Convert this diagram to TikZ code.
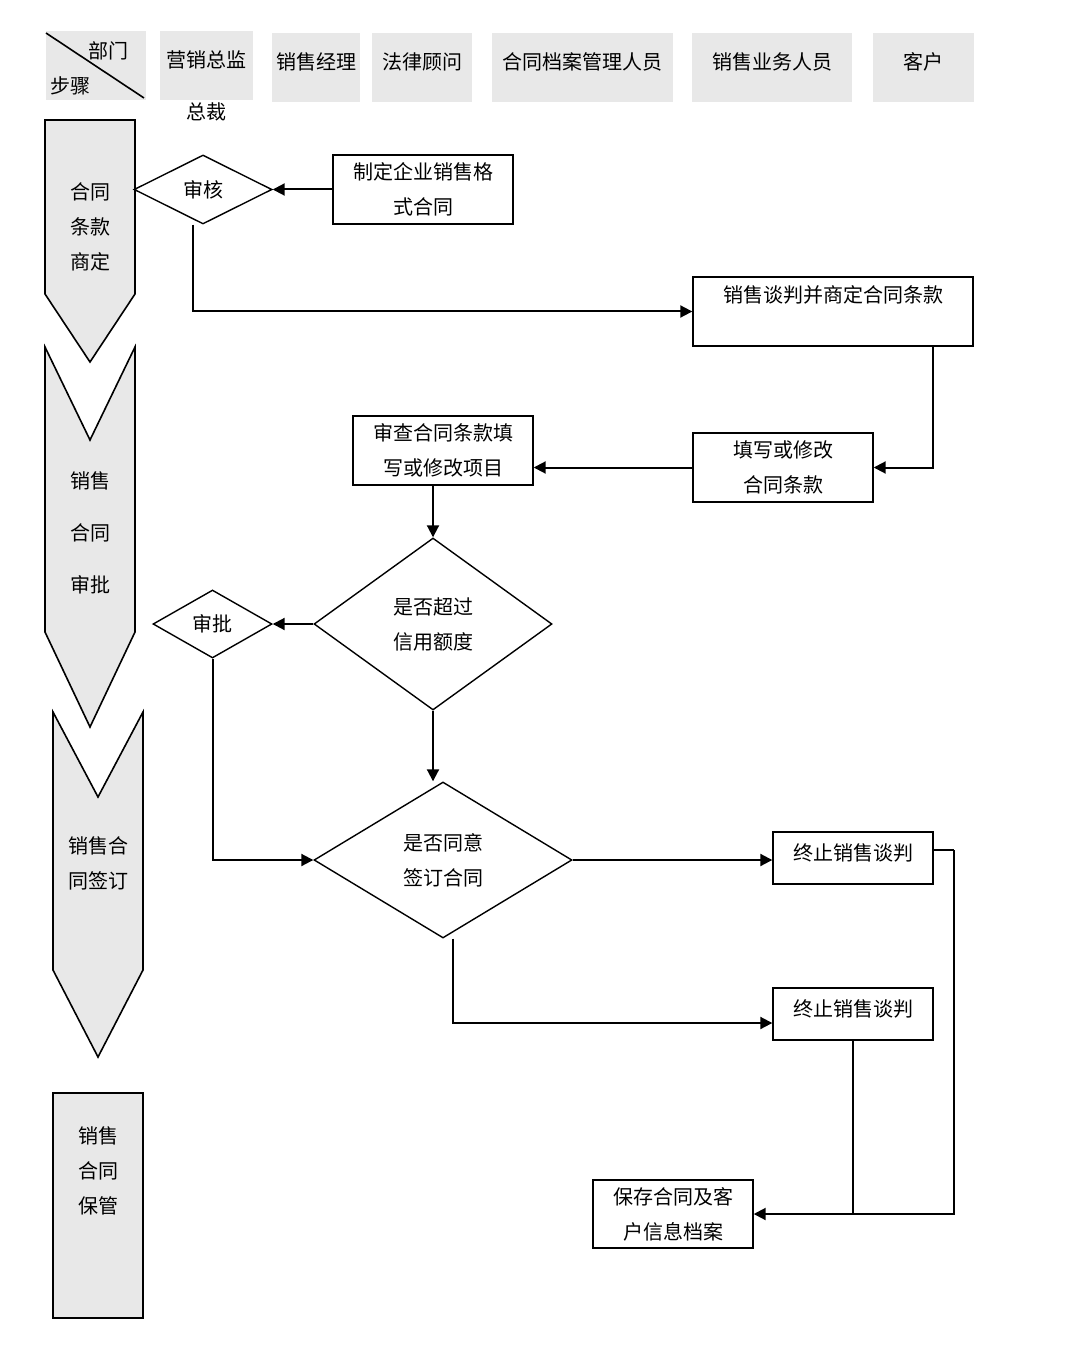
\documentclass[tikz,border=0pt]{standalone}
\usepackage{fontspec}
\setmainfont{Noto Sans CJK SC}
\usetikzlibrary{shapes.geometric,arrows.meta}
\definecolor{cellgray}{HTML}{E8E8E8}
\begin{document}
\begin{tikzpicture}[x=0.5pt,y=-0.5pt,
  every node/.style={font=\fontsize{10}{17.5}\selectfont,align=center},
  hcell/.style={fill=cellgray,inner sep=0pt,minimum height=34.5pt,text height=8pt,text depth=6pt},
  box/.style={draw,line width=0.7pt,inner sep=0pt,minimum width=90pt,minimum height=34.5pt},
  judge/.style={diamond,draw,line width=0.7pt,inner sep=0pt},
  arr/.style={line width=1pt,-{Triangle[length=6pt,width=6pt]}},
  conn/.style={line width=0.8pt}]
    \useasboundingbox (0,0) rectangle (1074,1347);
    % header row
    \node at (96,65.5) [hcell,minimum width=50pt] (corner) {};
    \draw[conn] (46,33) -- (144,98);
    \node at (108,51) (bumen) {部门};
    \node at (70,86) (buzhou) {步骤};
    \node at (206.5,65.5) [hcell,minimum width=46.5pt] (yingxiao) {营销总监};
    \node at (206.5,112) (zongcai) {总裁};
    \node at (316,67.5) [hcell,minimum width=44pt] (jingli) {销售经理};
    \node at (422,67.5) [hcell,minimum width=50pt] (falv) {法律顾问};
    \node at (582.5,67.5) [hcell,minimum width=90.5pt] (dangan) {合同档案管理人员};
    \node at (772,67.5) [hcell,minimum width=80pt] (yewu) {销售业务人员};
    \node at (923.5,67.5) [hcell,minimum width=50.5pt] (kehu) {客户};
    % stage arrows
    \filldraw[fill=cellgray,line width=0.8pt] (45,120) -- (135,120) -- (135,294) -- (90,362) -- (45,294) -- cycle;
    \filldraw[fill=cellgray,line width=0.8pt] (45,347) -- (90,440) -- (135,347) -- (135,632) -- (90,727) -- (45,632) -- cycle;
    \filldraw[fill=cellgray,line width=0.8pt] (53,712) -- (98,797) -- (143,712) -- (143,970) -- (98,1057) -- (53,970) -- cycle;
    \filldraw[fill=cellgray,line width=0.8pt] (53,1093) rectangle (143,1318);
    \node at (90,227) (stage1) {合同\\条款\\商定};
    \node at (90,533) [font=\fontsize{10}{26}\selectfont] (stage2) {销售\\合同\\审批};
    \node at (98,863.5) (stage3) {销售合\\同签订};
    \node at (98,1171) (stage4) {销售\\合同\\保管};
    % flow
    \node at (203,189.5) [judge,minimum width=69pt,minimum height=34.5pt] (shenhe) {审核};
    \node at (423,189.5) [box] (zhiding) {制定企业销售格\\式合同};
    \node at (833,311.5) [box,minimum width=140pt] (tanpan) {销售谈判并商定合同条款\\\mbox{}};
    \node at (783,467.5) [box] (tianxie) {填写或修改\\合同条款};
    \node at (443,450.5) [box] (shencha) {审查合同条款填\\写或修改项目};
    \node at (433,624) [judge,minimum width=119pt,minimum height=86pt] (chaoguo) {是否超过\\信用额度};
    \node at (212.5,624) [judge,minimum width=59.5pt,minimum height=34pt] (shenpi) {审批};
    \node at (443,860) [judge,minimum width=129pt,minimum height=78pt] (tongyi) {是否同意\\签订合同};
    \node at (853,858) [box,minimum width=80pt,minimum height=26pt,text height=8pt,text depth=6pt] (zhongzhi1) {终止销售谈判};
    \node at (853,1014) [box,minimum width=80pt,minimum height=26pt,text height=8pt,text depth=6pt] (zhongzhi2) {终止销售谈判};
    \node at (673,1214) [box,minimum width=80pt,minimum height=34pt] (baocun) {保存合同及客\\户信息档案};
    \draw[arr] (zhiding.west) -- (shenhe.east);
    \draw[arr] ([xshift=-5pt]shenhe.south) |- (tanpan.west);
    \draw[arr] ([xshift=50pt]tanpan.south) |- (tianxie.east);
    \draw[arr] (tianxie.west) -- (tianxie.west -| shencha.east);
    \draw[arr] (chaoguo.north |- shencha.south) -- (chaoguo.north);
    \draw[arr] (chaoguo.west) -- (shenpi.east);
    \draw[arr] (chaoguo.south) -- (chaoguo.south |- tongyi.north);
    \draw[arr] (shenpi.south) |- (tongyi.west);
    \draw[arr] (tongyi.east) -- (tongyi.east -| zhongzhi1.west);
    \draw[arr] ([xshift=5pt]tongyi.south) |- ([yshift=-4.5pt]zhongzhi2.west);
    \draw[conn] ([yshift=4pt]zhongzhi1.east) -- ++(10pt,0) coordinate (turn);
    \draw[arr] (turn) |- (baocun.east);
    \draw[conn] (zhongzhi2.south) -- (zhongzhi2.south |- baocun.east);
\end{tikzpicture}
\end{document}
